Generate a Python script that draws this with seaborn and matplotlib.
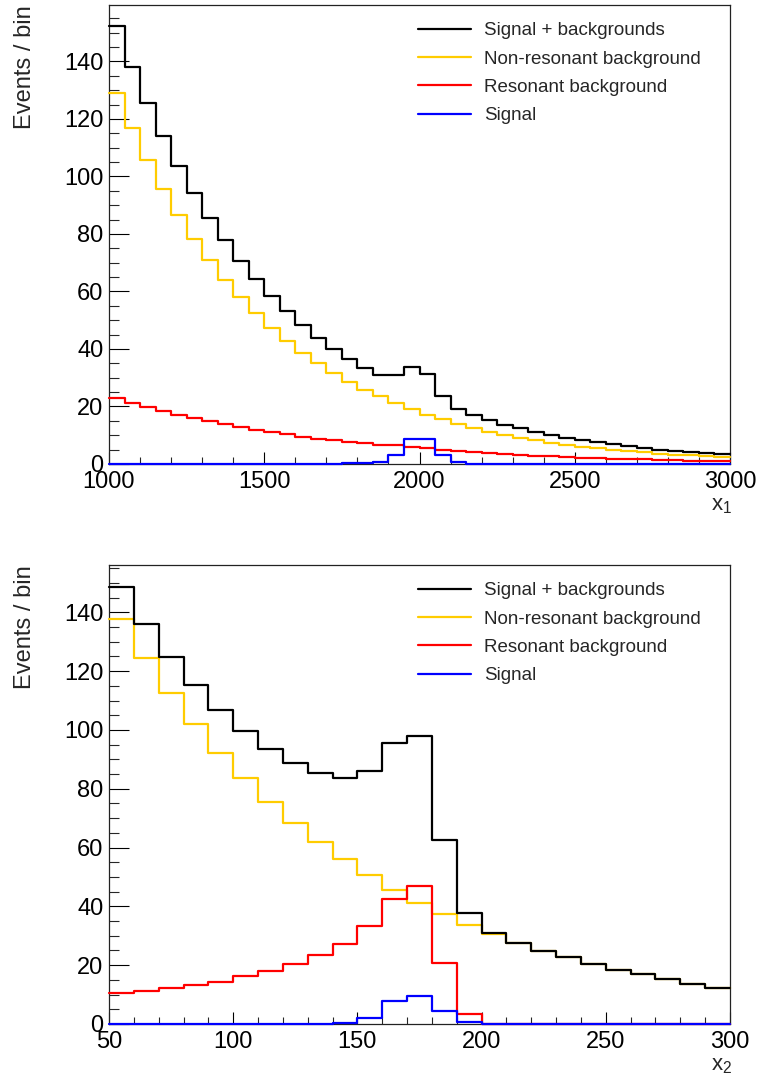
import numpy as np
import pandas as pd
import matplotlib
matplotlib.use("Agg")
import matplotlib.pyplot as plt
from matplotlib.ticker import MultipleLocator
from matplotlib.lines import Line2D
import seaborn as sns

# ---------------- data ----------------
# Panel 1: x1 from 1000 to 3000, 40 bins of 50
x1_edges = list(range(1000, 3001, 50))
x1_nonres = [129.1, 116.8, 105.7, 95.7, 86.5, 78.3, 70.9, 64.1, 57.9, 52.4,
             47.4, 42.9, 38.7, 35.0, 31.5, 28.5, 25.9, 23.5, 21.2, 19.0,
             17.1, 15.5, 14.0, 12.6, 11.3, 10.2, 9.2, 8.3, 7.4, 6.6,
             6.0, 5.5, 4.9, 4.4, 4.0, 3.6, 3.3, 3.0, 2.7, 2.4]
x1_res = [23.1, 21.3, 19.8, 18.3, 17.1, 15.9, 14.8, 13.8, 12.8, 11.9,
          11.0, 10.3, 9.5, 8.8, 8.3, 7.7, 7.2, 6.7, 6.5, 6.0,
          5.5, 5.0, 4.6, 4.2, 3.9, 3.5, 3.3, 2.9, 2.7, 2.4,
          2.2, 2.0, 1.9, 1.7, 1.6, 1.4, 1.3, 1.2, 1.1, 1.0]
x1_sig = [0, 0, 0, 0, 0, 0, 0, 0, 0, 0,
          0, 0, 0.05, 0.08, 0.12, 0.2, 0.3, 0.8, 3.3, 8.7,
          8.7, 3.3, 0.6, 0.1, 0, 0, 0, 0, 0, 0,
          0, 0, 0, 0, 0, 0, 0, 0, 0, 0]

# Panel 2: x2 from 50 to 300, 25 bins of 10
x2_edges = list(range(50, 301, 10))
x2_nonres = [137.9, 124.6, 112.6, 102.0, 92.3, 83.5, 75.6, 68.4, 61.9, 56.0,
             50.6, 45.6, 41.2, 37.3, 33.8, 30.7, 27.6, 24.9, 22.7, 20.4,
             18.4, 16.9, 15.2, 13.7, 12.4]
x2_res = [10.7, 11.3, 12.1, 13.3, 14.4, 16.2, 17.9, 20.3, 23.3, 27.3,
          33.2, 42.4, 47.1, 20.9, 3.4, 0.1, 0, 0, 0, 0,
          0, 0, 0, 0, 0]
x2_sig = [0, 0, 0, 0, 0, 0, 0, 0, 0.05, 0.5,
          2.1, 7.7, 9.6, 4.3, 0.6, 0, 0, 0, 0, 0,
          0, 0, 0, 0, 0]

labels = ["Signal + backgrounds", "Non-resonant background",
          "Resonant background", "Signal"]
colors = ["#000000", "#FFCC00", "#FF0000", "#0000FF"]

# ---------------- style ----------------
sns.set_theme(style="white")
plt.rcParams["font.family"] = ["Liberation Sans", "DejaVu Sans"]
plt.rcParams["mathtext.fontset"] = "custom"
plt.rcParams["mathtext.rm"] = "Liberation Sans"
plt.rcParams["mathtext.it"] = "Liberation Sans"

W, H = 761, 1082
fig = plt.figure(figsize=(W / 100, H / 100), dpi=100)

def px_axes(left, top, right, bottom):
    return fig.add_axes([left / W, 1 - bottom / H, (right - left) / W, (bottom - top) / H])

panels = [
    dict(edges=x1_edges, nonres=x1_nonres, res=x1_res, sig=x1_sig,
         top=5, bottom=464, xmajor=500, xminor=100, ymax=159.6, xlabel=r"x$_{1}$"),
    dict(edges=x2_edges, nonres=x2_nonres, res=x2_res, sig=x2_sig,
         top=565, bottom=1024, xmajor=50, xminor=10, ymax=156.1, xlabel=r"x$_{2}$"),
]

lw = 1.6
for p in panels:
    ax = px_axes(109, p["top"], 730, p["bottom"])
    edges = np.array(p["edges"], dtype=float)
    centers = 0.5 * (edges[:-1] + edges[1:])
    nonres = np.array(p["nonres"], dtype=float)
    res = np.array(p["res"], dtype=float)
    sig = np.array(p["sig"], dtype=float)
    total = nonres + res + sig
    series = [(nonres, colors[1]), (res, colors[2]), (total, colors[0]), (sig, colors[3])]
    for vals, c in series:
        df = pd.DataFrame({"x": centers, "w": vals})
        sns.histplot(data=df, x="x", weights="w", bins=list(p["edges"]), element="step",
                     fill=False, color=c, linewidth=lw, ax=ax)
    for i, ln in enumerate(ax.lines):
        ln.set_zorder(3 + i * 0.01)
        ln.set_clip_on(False)
    for coll in ax.collections:
        coll.set_zorder(3)
        coll.set_clip_on(False)
    ax.set_xlim(edges[0], edges[-1])
    ax.set_ylim(0, p["ymax"])
    ax.set_ylabel("")
    ax.set_xlabel("")
    ax.xaxis.set_major_locator(MultipleLocator(p["xmajor"]))
    ax.xaxis.set_minor_locator(MultipleLocator(p["xminor"]))
    ax.yaxis.set_major_locator(MultipleLocator(20))
    ax.yaxis.set_minor_locator(MultipleLocator(5))
    ax.tick_params(axis="y", which="major", direction="in", length=14.4, width=0.8,
                   labelsize=17, pad=4, colors="black", left=True, right=False)
    ax.tick_params(axis="y", which="minor", direction="in", length=7.2, width=0.8,
                   left=True, right=False)
    ax.tick_params(axis="x", which="major", direction="in", length=8.4, width=0.8,
                   labelsize=17, pad=5, colors="black", bottom=True, top=False)
    ax.tick_params(axis="x", which="minor", direction="in", length=4.8, width=0.8,
                   bottom=True, top=False)
    for s in ax.spines.values():
        s.set_visible(True)
        s.set_color("#222222")
        s.set_linewidth(0.9)
    ax.set_facecolor("white")

    handles = [Line2D([], [], color=c, lw=lw) for c in colors]
    fig.legend(handles, labels, loc="upper left",
               bbox_to_anchor=(418 / W, 1 - (p["top"] + 17) / H),
               frameon=False, fontsize=13.5, handlelength=2.8, handletextpad=0.7,
               borderpad=0, borderaxespad=0, labelspacing=0.6)

    fig.text(25.5 / W, 1 - (p["top"]) / H, "Events / bin", rotation=90,
             ha="center", va="top", fontsize=17)
    fig.text(732 / W, 1 - (p["bottom"] + 42) / H, p["xlabel"], ha="right",
             va="center", fontsize=16)

fig.savefig("out.png", dpi=100, facecolor="white")
